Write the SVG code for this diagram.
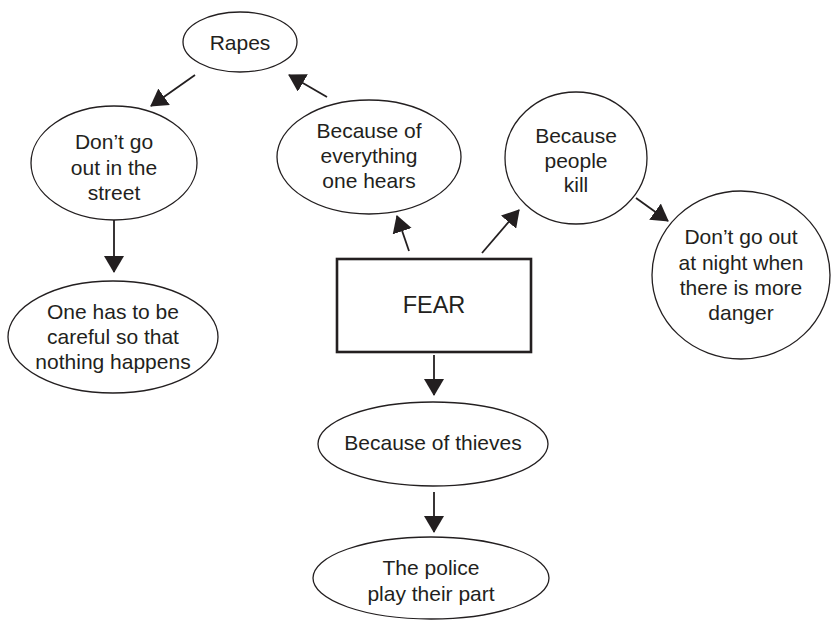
<svg xmlns="http://www.w3.org/2000/svg" width="832" height="622" viewBox="0 0 832 622">
<defs>
<style>
.n ellipse{fill:#fff;stroke:#231f20;stroke-width:1.3}
.n rect{fill:#fff;stroke:#231f20;stroke-width:2.6}
text{font-family:"Liberation Sans",Arial,sans-serif;font-size:21px;fill:#231f20;text-anchor:middle}
.c line{stroke:#231f20;stroke-width:1.8;marker-end:url(#ah)}
</style>
<marker id="ah" viewBox="0 0 17 20" refX="16" refY="10" markerWidth="17" markerHeight="20" orient="auto" markerUnits="userSpaceOnUse">
<path d="M0,0 L17,10 L0,20 z" fill="#231f20"/>
</marker>
</defs>
<rect width="832" height="622" fill="#fff"/>
<g class="c">
<line x1="195" y1="75" x2="151" y2="106"/>
<line x1="327" y1="97" x2="289" y2="75"/>
<line x1="114" y1="220" x2="114" y2="272"/>
<line x1="409" y1="251" x2="397" y2="216"/>
<line x1="482" y1="253" x2="519" y2="210"/>
<line x1="636" y1="198" x2="668" y2="221"/>
<line x1="434" y1="355" x2="434" y2="395"/>
<line x1="434" y1="492" x2="434" y2="532"/>
</g>
<g id="rapes" class="n"><ellipse cx="240" cy="42" rx="57" ry="30"/><text x="240" y="50">Rapes</text></g>
<g id="everything" class="n"><ellipse cx="369" cy="157" rx="92" ry="57"/><text x="369" y="138">Because of</text><text x="369" y="163">everything</text><text x="369" y="188">one hears</text></g>
<g id="street" class="n"><ellipse cx="114" cy="163" rx="83" ry="57"/><text x="114" y="149">Don’t go</text><text x="114" y="175">out in the</text><text x="114" y="200">street</text></g>
<g id="careful" class="n"><ellipse cx="113" cy="337" rx="105" ry="56"/><text x="113" y="319">One has to be</text><text x="113" y="344">careful so that</text><text x="113" y="369">nothing happens</text></g>
<g id="fear" class="n"><rect x="337" y="259" width="194" height="93"/><text x="434" y="313" style="font-size:23.5px">FEAR</text></g>
<g id="kill" class="n"><ellipse cx="576" cy="158" rx="71" ry="66"/><text x="576" y="143">Because</text><text x="576" y="168">people</text><text x="576" y="192">kill</text></g>
<g id="night" class="n"><ellipse cx="741" cy="275" rx="89" ry="84"/><text x="741" y="244">Don’t go out</text><text x="741" y="270">at night when</text><text x="741" y="295">there is more</text><text x="741" y="320">danger</text></g>
<g id="thieves" class="n"><ellipse cx="433" cy="444" rx="115" ry="42"/><text x="433" y="450">Because of thieves</text></g>
<g id="police" class="n"><ellipse cx="431" cy="578" rx="118" ry="41"/><text x="431" y="575">The police</text><text x="431" y="601">play their part</text></g>
</svg>
